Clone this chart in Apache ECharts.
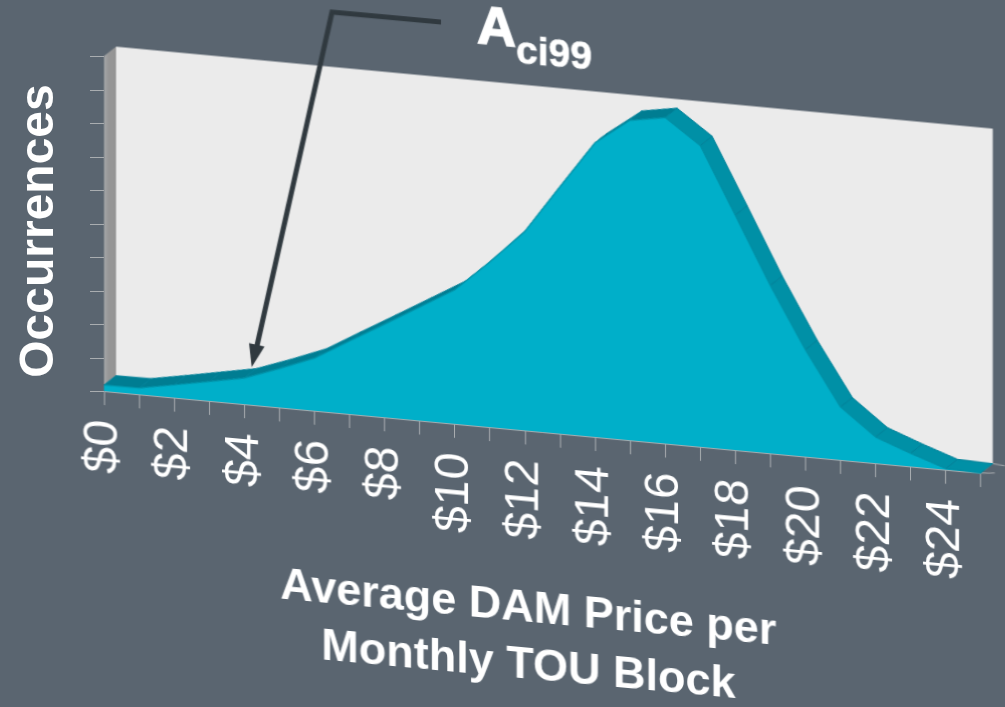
<!DOCTYPE html>
<html>
<head>
<meta charset="utf-8">
<script src="https://cdn.jsdelivr.net/npm/echarts@6/dist/echarts.min.js"></script>
<style>
html,body{margin:0;padding:0;width:1005px;height:707px;overflow:hidden;background:#5a6570}
#flat{position:absolute;left:0;top:0;width:1005px;height:707px}
#sheared{position:absolute;left:0;top:-100px;width:1105px;height:950px;transform-origin:104px 491px;transform:matrix(1,0.0935,0,1,0,0)}
</style>
</head>
<body>
<div id="flat"></div>
<div id="sheared"></div>
<script>
var priceLabels = ['$0','$1','$2','$3','$4','$5','$6','$7','$8','$9','$10','$11','$12','$13','$14','$15','$16','$17','$18','$19','$20','$21','$22','$23','$24','$25'];
var occurrences = [0.18,0.19,0.38,0.58,0.78,1.16,1.57,2.18,2.78,3.39,4.0,4.93,5.94,7.37,8.78,9.55,9.73,8.99,7.01,5.01,3.19,1.58,0.78,0.39,0.03,0];
var yTicks = [0,1,2,3,4,5,6,7,8,9,10];
var yMax = 10;

var FONT = '"Liberation Sans", Arial, sans-serif';
var SHEAR = 0.0935, OX = 104, PAGE_SHIFT = 100;
var DEPTH = [12, -10.5];
var AXIS_GRAY = '#a9adb0';
// page position -> position inside the sheared chart (annotations only)
function toChart(x, y) { return [x, y - SHEAR * (x - OX) + PAGE_SHIFT]; }
function back(p) { return [p[0] + DEPTH[0], p[1] + DEPTH[1]]; }

function renderYTick(params, api) {
  var p = api.coord([0, api.value(0)]);
  var y = Math.round(p[1]) + 0.5;
  return {type: 'line', shape: {x1: p[0] - 14, y1: y, x2: p[0], y2: y}, style: {stroke: AXIS_GRAY, lineWidth: 1}};
}

var flat = echarts.init(document.getElementById('flat'));
flat.setOption({
  animation: false,
  backgroundColor: 'transparent',
  grid: {left: 104, top: 56, width: 877, height: 335, outerBoundsMode: 'none'},
  xAxis: {type: 'category', data: priceLabels, show: false, boundaryGap: false},
  yAxis: {
    type: 'value', min: 0, max: yMax, interval: 1,
    name: 'Occurrences', nameLocation: 'middle', nameRotate: 90, nameGap: 40,
    nameMoveOverlap: false,
    nameTextStyle: {color: '#fff', fontFamily: FONT, fontWeight: 'bold', fontSize: 48, padding: [0, 15, 0, 0]},
    axisLine: {show: false},
    axisTick: {show: false},
    axisLabel: {show: false},
    splitLine: {show: false}
  },
  series: [{type: 'custom', name: 'yTicks', data: yTicks.map(function (v) { return [v]; }), encode: {y: 0}, renderItem: renderYTick, clip: false, silent: true}]
});

function renderWall(params, api) {
  var o = api.coord([0, 0]), top = api.coord([0, yMax]), r = api.coord([priceLabels.length - 1, 0]);
  var bl = back(o), tl = back(top), br = back(r), tr = [br[0], tl[1]];
  return {type: 'group', children: [
    {type: 'polygon', shape: {points: [tl, tr, br, bl]}, style: {fill: '#ebebeb'}},
    {type: 'polygon', shape: {points: [top, tl, bl, o]}, style: {
      fill: new echarts.graphic.LinearGradient(0, 0, 1, 0, [{offset: 0, color: '#a4a7a9'}, {offset: 0.4, color: '#969696'}, {offset: 1, color: '#949494'}])
    }},
    {type: 'line', shape: {x1: o[0], y1: o[1], x2: bl[0], y2: bl[1]}, style: {stroke: AXIS_GRAY, lineWidth: 1}},
    {type: 'line', shape: {x1: br[0], y1: br[1], x2: br[0] + 12, y2: br[1] + 1}, style: {stroke: AXIS_GRAY, lineWidth: 1}},
    {type: 'line', shape: {x1: r[0], y1: r[1], x2: r[0] + 14, y2: r[1] - 1.3}, style: {stroke: AXIS_GRAY, lineWidth: 1}},
    {type: 'line', shape: {x1: r[0], y1: r[1], x2: br[0], y2: br[1]}, style: {stroke: AXIS_GRAY, lineWidth: 1}}
  ]};
}
function renderBand(params, api) {
  var i = api.value(0), a = api.coord([i, api.value(1)]), b = api.coord([i + 1, api.value(2)]);
  var falling = api.value(2) < api.value(1);
  return {type: 'polygon', shape: {points: [a, b, back(b), back(a)]},
    style: {fill: falling ? '#0090a6' : '#007d92', stroke: '#00829a', lineWidth: 1}};
}
var bandData = occurrences.slice(0, -1).map(function (v, i) { return [i, v, occurrences[i + 1]]; });

var arrowStart = toChart(441, 22), arrowElbow = toChart(332, 12), arrowEnd = toChart(256, 350);
var tipPoints = [toChart(251.7, 367), toChart(249, 343), toChart(264.5, 346.5)];

var chart = echarts.init(document.getElementById('sheared'));
chart.setOption({
  animation: false,
  backgroundColor: 'transparent',
  title: {
    text: '{a|A}{b|ci99}',
    left: 472, top: 61,
    textStyle: {
      rich: {
        a: {color: '#fff', textBorderColor: '#fff', textBorderWidth: 1.5, fontFamily: FONT, fontWeight: 'bold', fontSize: 54, padding: [0, 0, 13, 0], verticalAlign: 'bottom'},
        b: {color: '#fff', textBorderColor: '#fff', textBorderWidth: 0.6, fontFamily: FONT, fontWeight: 'bold', fontSize: 39, verticalAlign: 'bottom'}
      }
    }
  },
  grid: {left: 104, top: 156, width: 876.7, height: 335, outerBoundsMode: 'none'},
  xAxis: {
    type: 'category', data: priceLabels, boundaryGap: false,
    name: 'Average DAM Price per\nMonthly TOU Block', nameLocation: 'middle', nameGap: 207,
    nameMoveOverlap: false,
    nameTextStyle: {color: '#fff', fontFamily: FONT, fontWeight: 'bold', fontSize: 45, lineHeight: 57, verticalAlign: 'middle', padding: [0, 28, 0, 0]},
    axisLine: {show: true, onZero: false, lineStyle: {color: AXIS_GRAY, width: 1}},
    axisTick: {show: true, interval: 0, length: 14, lineStyle: {color: AXIS_GRAY, width: 1}},
    axisLabel: {show: true, interval: 1, rotate: 90, margin: 29, color: '#fff', fontFamily: FONT, fontSize: 48, hideOverlap: false}
  },
  yAxis: {type: 'value', min: 0, max: yMax, interval: 1, show: false, splitLine: {show: false}},
  series: [
    {type: 'custom', name: 'wall', data: [[0]], renderItem: renderWall, z: 1, clip: false, silent: true},
    {type: 'custom', name: 'band', data: bandData, renderItem: renderBand, z: 2, clip: false, silent: true},
    {type: 'line', name: 'Occurrences', data: occurrences, showSymbol: false, z: 3, clip: false, silent: true,
      lineStyle: {color: '#0092a8', width: 1.2},
      areaStyle: {color: '#00afc9', opacity: 1}}
  ],
  graphic: [
    {type: 'polyline', z: 100, shape: {points: [arrowStart, arrowElbow, arrowEnd]}, style: {stroke: '#30393f', lineWidth: 5, fill: null, lineJoin: 'miter'}},
    {type: 'polygon', z: 100, shape: {points: tipPoints}, style: {fill: '#30393f'}}
  ]
});
</script>
</body>
</html>
